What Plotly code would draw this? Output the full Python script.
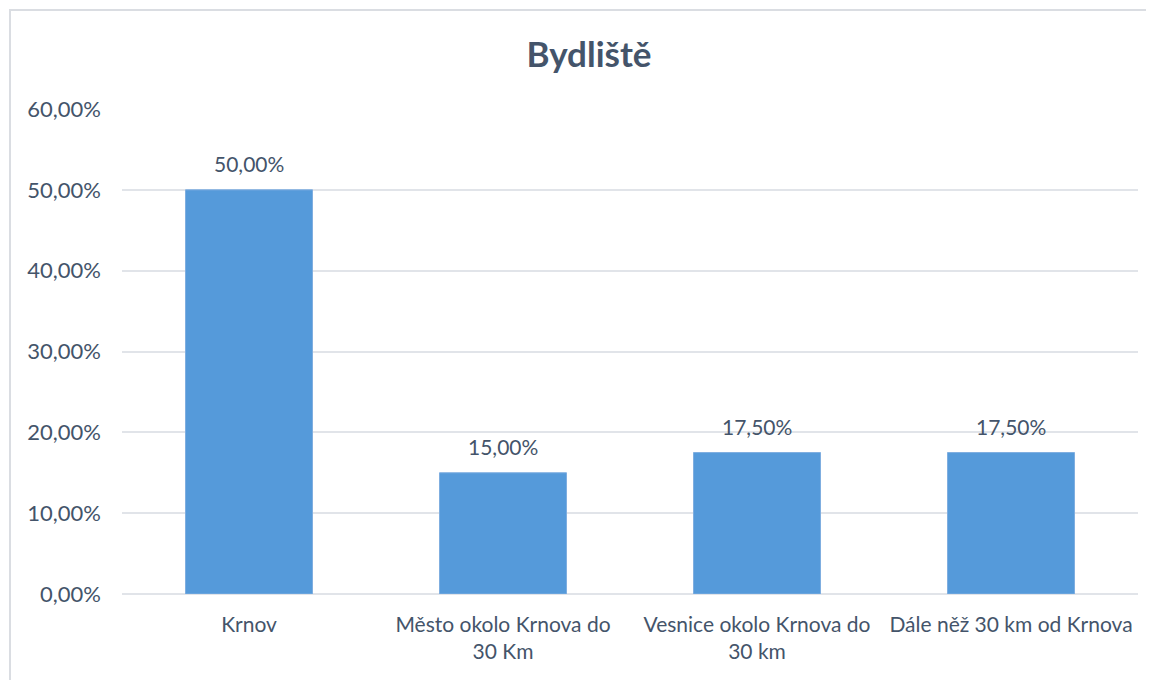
import plotly.graph_objects as go

categories = ["Krnov", "Město okolo Krnova do<br>30 Km", "Vesnice okolo Krnova do<br>30 km", "Dále něž 30 km od Krnova"]
values = [50.0, 15.0, 17.5, 17.5]
tick_vals = [0, 10, 20, 30, 40, 50, 60]
tick_text = ["0,00%", "10,00%", "20,00%", "30,00%", "40,00%", "50,00%", "60,00%"]
title = "Bydliště"

labels = [f"{v:.2f}".replace(".", ",") + "%" for v in values]

# page body has an 8px margin; compensate so the plot lands where the reference has it
OFF = 8
W, H = 1154, 680
L, R, T, B = 122 - OFF, 16 + OFF, 109 - OFF, 86 + OFF
pw, ph = W - L - R, H - T - B
TXT = "#44546A"

fig = go.Figure(go.Bar(
    x=categories, y=values,
    marker=dict(color="#559ADA", line=dict(color="#7FAEE0", width=1)),
    hoverinfo="skip",
))

annotations = [dict(x=c, y=v, xref="x", yref="y", text=t, showarrow=False,
                    yanchor="bottom", yshift=12, font=dict(size=21, color=TXT))
               for c, v, t in zip(categories, values, labels)]

fig.update_layout(
    width=W, height=H,
    margin=dict(l=L, r=R, t=T, b=B),
    paper_bgcolor="white", plot_bgcolor="white",
    font=dict(family="Lato, Open Sans, sans-serif", color=TXT, size=21),
    title=dict(text="<b>" + title + "</b>", x=(589 - OFF) / W, xanchor="center", y=1 - (55 - OFF) / H, yanchor="middle",
               font=dict(size=35, color=TXT)),
    bargap=0.5,
    showlegend=False,
    annotations=annotations,
    xaxis=dict(showgrid=False, showline=False, ticks="", ticklabelstandoff=16,
               tickfont=dict(size=21, color=TXT)),
    yaxis=dict(range=[0, 60], tickvals=tick_vals, ticktext=tick_text, showgrid=True,
               gridcolor="#E1E4E9", gridwidth=2, zeroline=True, zerolinecolor="#E1E4E9", zerolinewidth=2,
               showline=False, ticks="", ticklabelstandoff=20, tickfont=dict(size=22, color=TXT)),
    shapes=[dict(type="rect", xref="paper", yref="paper",
                 x0=(10 - OFF - L) / pw, x1=(W + 20 - L) / pw,
                 y0=-(B + 20) / ph, y1=(T - (10 - OFF)) / ph + 1,
                 line=dict(color="#DADDE2", width=2), fillcolor="rgba(0,0,0,0)", layer="below")],
)

fig.write_html("out.html")
